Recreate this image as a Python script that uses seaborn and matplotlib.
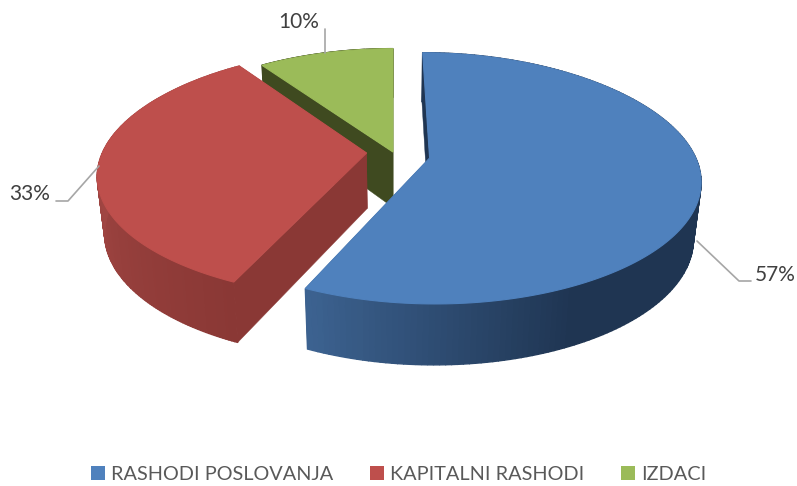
# 3D style exploded pie, slices built from the percent values
import numpy as np
import matplotlib
matplotlib.use('Agg')
import matplotlib.pyplot as plt
from matplotlib.patches import Patch
import seaborn as sns

categories = ['RASHODI POSLOVANJA', 'KAPITALNI RASHODI', 'IZDACI']
values = [57, 33, 10]

top_colors = ['#4F81BD', '#BE4F4C', '#9BBB59']
cut_colors = ['#1F3552', '#8A3835', '#3F4A20']
side_ramps = [['#1F3552', '#1F3552', '#1F3552', '#1F3552', '#3C6290'],
              ['#8A3835', '#A04542', '#A04542'],
              ['#3F4A20', '#3F4A20']]

# explode offsets of every slice, in units of the radius
explode_x = [0.1375, -0.10, 0.0]
explode_y = [-0.024, 0.016, 0.024]

VX, VY = 393, 155       # camera centre in pixels
RX, RY = 265, 125       # pie radii in pixels
DEPTH = 57
BOTTOM = 0.975


def project(x, y, low=False):
    # the far half shrinks a bit faster than the near half grows
    sx = 1 / (1 + (0.185 + 0.05 * y) * y)
    sy = 1 / (1 + (0.168 + 0.03 * y) * y)
    if low:
        return VX + x * RX * sx * BOTTOM, VY + (-y * RY + DEPTH) * sy * BOTTOM
    return VX + x * RX * sx, VY - y * RY * sy


def draw_slice(ax, start, stop, ox, oy, top, cut, ramp):
    th = np.radians(np.linspace(start, stop, 181))
    x = ox + np.sin(th)
    y = oy + np.cos(th)

    # flat faces of the cuts
    for xe, ye in [(x[0], y[0]), (x[-1], y[-1])]:
        xs = np.array([ox, xe])
        ys = np.array([oy, ye])
        a = project(xs, ys)
        b = project(xs, ys, low=True)
        ax.fill(np.r_[a[0], b[0][::-1]], np.r_[a[1], b[1][::-1]], color=cut, lw=0.3)

    # round side, cut in small pieces for the shading
    pal = sns.blend_palette(ramp, len(th) - 1)
    tx, ty = project(x, y)
    bx, by = project(x, y, low=True)
    for i in range(len(th) - 1):
        ax.fill([tx[i], tx[i + 1], bx[i + 1], bx[i]],
                [ty[i], ty[i + 1], by[i + 1], by[i]], color=pal[i], lw=1.0)

    # top
    cx, cy = project(np.array([ox]), np.array([oy]))
    ax.fill(np.r_[cx, tx], np.r_[cy, ty], color=top, lw=0.8)


sns.set_theme(style='white')
plt.rcParams['font.family'] = ['Lato', 'DejaVu Sans']

fig = plt.figure(figsize=(7.97, 4.86), dpi=100)
ax = fig.add_axes([0, 0, 1, 1])
ax.set_xlim(0, 797)
ax.set_ylim(486, 0)
ax.axis('off')

angles = np.r_[0, np.cumsum(values)] / np.sum(values) * 360
for i in [2, 1, 0]:
    draw_slice(ax, angles[i], angles[i + 1], explode_x[i], explode_y[i],
               top_colors[i], cut_colors[i], side_ramps[i])

# leader lines and labels
leaders = [([697, 739, 751], [241, 281, 281]),
           ([99, 68, 56], [166, 201, 201]),
           ([325, 325], [53, 29])]
label_pos = [(775, 275), (30, 194), (299, 22)]
for v, (lx, ly), (tx, ty) in zip(values, leaders, label_pos):
    ax.plot(lx, ly, color='#A6A6A6', lw=1.2)
    ax.text(tx, ty, f'{v}%', ha='center', va='center', color='#404040', fontsize=15)

handles = [Patch(facecolor=c, edgecolor='none') for c in top_colors]
ax.legend(handles, categories, ncol=3, frameon=False, loc='lower center',
          bbox_to_anchor=(0.5, -0.031), fontsize=14.3, labelcolor='#595959',
          handlelength=0.7, handleheight=0.7, handletextpad=0.3, columnspacing=1.85)

fig.savefig('out.png', dpi=100)
